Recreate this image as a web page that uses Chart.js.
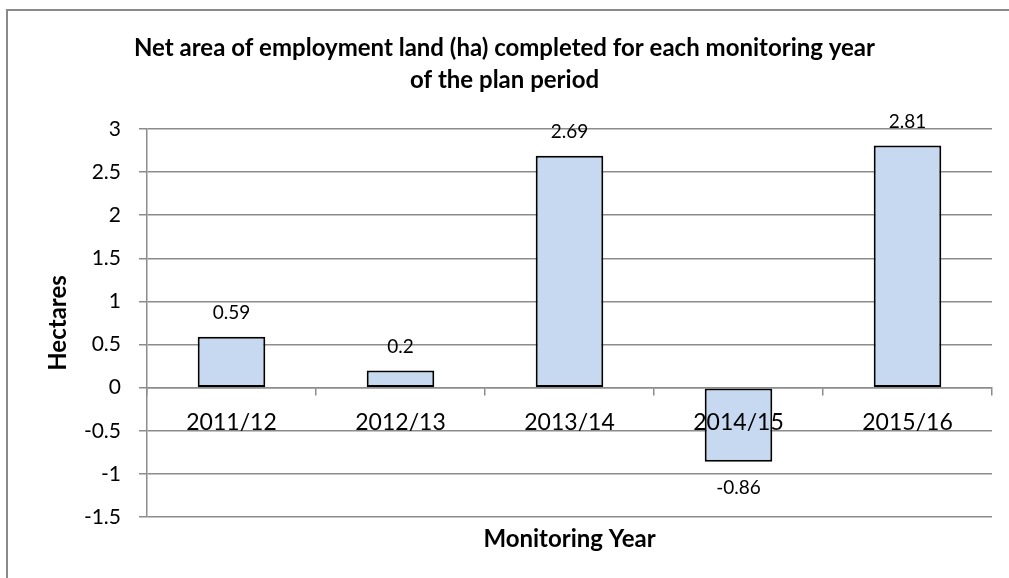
<!DOCTYPE html>
<html>
<head>
<meta charset="utf-8">
<script src="https://cdn.jsdelivr.net/npm/chart.js@4"></script>
<style>
  html, body { margin: 0; padding: 0; background: #fff; }
</style>
</head>
<body>
<canvas id="chart" width="1009" height="578"></canvas>
<script>
// chart data
const years = ['2011/12', '2012/13', '2013/14', '2014/15', '2015/16'];
const hectares = [0.59, 0.2, 2.69, -0.86, 2.81];
const titleLines = ['Net area of employment land (ha) completed for each monitoring year', 'of the plan period'];
const xTitle = 'Monitoring Year';
const yTitle = 'Hectares';
const yMin = -1.5, yMax = 3, yStep = 0.5;

const FONT = 'Lato';
const GRID = '#8c8c8c';

// frame, title, x axis title and value labels
const decor = {
    id: 'decor',
    beforeDraw(chart) {
        const ctx = chart.ctx;
        ctx.save();
        ctx.fillStyle = '#fff';
        ctx.fillRect(0, 0, chart.width, chart.height);
        ctx.strokeStyle = '#8a8a8a';
        ctx.lineWidth = 2;
        ctx.beginPath();
        ctx.moveTo(7, chart.height);
        ctx.lineTo(7, 10);
        ctx.lineTo(chart.width, 10);
        ctx.stroke();
        ctx.restore();
    },
    afterDatasetsDraw(chart) {
        const ctx = chart.ctx;
        const meta = chart.getDatasetMeta(0);
        ctx.save();
        ctx.fillStyle = '#000';
        ctx.font = '19px ' + FONT;
        ctx.textAlign = 'center';
        ctx.textBaseline = 'middle';
        meta.data.forEach((bar, i) => {
            const v = hectares[i];
            const y = v >= 0 ? bar.y - 24 : bar.y + 26;
            ctx.fillText(String(v), bar.x, y);
        });
        ctx.restore();
    },
    afterDraw(chart) {
        const ctx = chart.ctx;
        const area = chart.chartArea;
        ctx.save();
        ctx.fillStyle = '#000';
        ctx.font = 'bold 24px ' + FONT;
        ctx.textAlign = 'center';
        ctx.textBaseline = 'middle';
        ctx.fillText(titleLines[0], chart.width / 2, 48);
        ctx.fillText(titleLines[1], chart.width / 2, 80);
        ctx.fillText(xTitle, (area.left + area.right) / 2, 539);
        ctx.restore();
    }
};

new Chart(document.getElementById('chart').getContext('2d'), {
    type: 'bar',
    data: {
        labels: years,
        datasets: [{
            data: hectares,
            backgroundColor: '#c6d9f0',
            borderColor: '#000',
            borderWidth: 2,
            borderSkipped: false,
            barPercentage: 0.4,
            categoryPercentage: 1.0
        }]
    },
    options: {
        responsive: false,
        animation: false,
        layout: { padding: { top: 129, bottom: 61, left: 0, right: 17 } },
        plugins: {
            legend: { display: false },
            tooltip: { enabled: false }
        },
        scales: {
            x: {
                position: { y: 0 },
                offset: true,
                grid: { drawOnChartArea: false, offset: true, tickLength: 7, color: GRID, lineWidth: 1.5 },
                border: { color: GRID, width: 1.5, z: 1 },
                ticks: { z: 1, color: '#000', font: { family: FONT, size: 23 }, padding: 14, maxRotation: 0, autoSkip: false }
            },
            y: {
                min: yMin,
                max: yMax,
                ticks: {
                    stepSize: yStep,
                    padding: 18,
                    color: '#000',
                    font: { family: FONT, size: 21 },
                    callback: v => String(parseFloat(v.toFixed(2)))
                },
                grid: { color: GRID, lineWidth: 1.5, tickLength: 8 },
                border: { color: GRID, width: 1.5 },
                title: {
                    display: true,
                    text: yTitle,
                    color: '#000',
                    font: { family: FONT, size: 24, weight: 'bold' },
                    padding: { top: 44, bottom: 0 }
                },
                afterFit(scale) { scale.width = 147; }
            }
        }
    },
    plugins: [decor]
});
</script>
</body>
</html>
